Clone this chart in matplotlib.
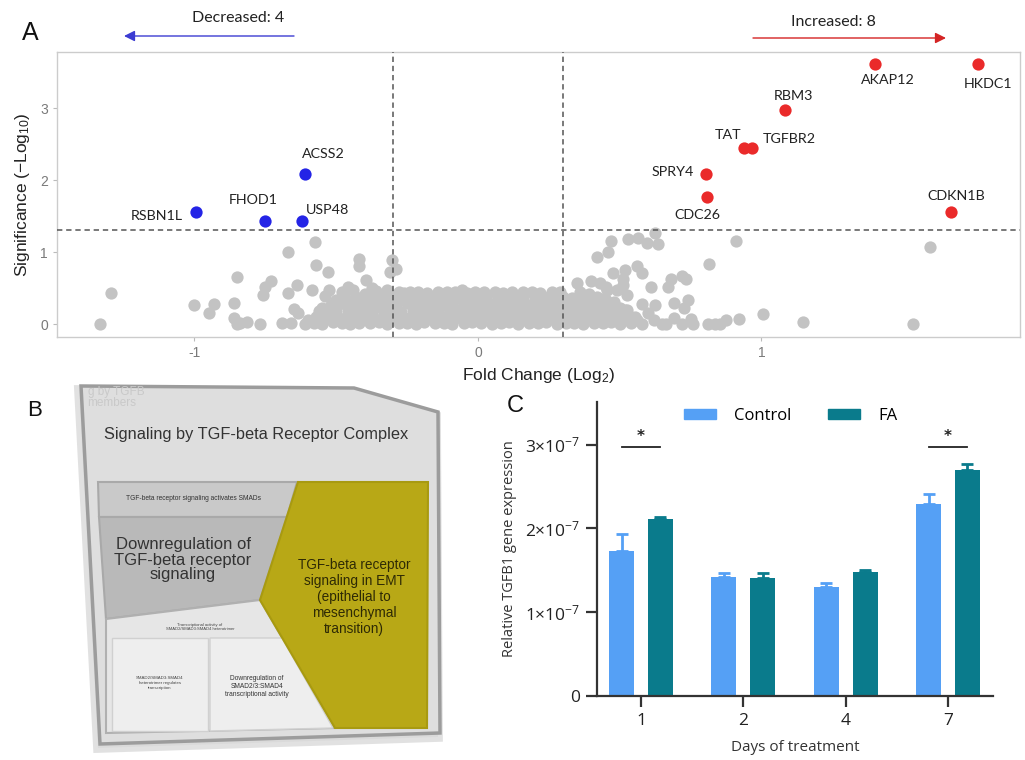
import matplotlib
matplotlib.use('Agg')
import matplotlib.pyplot as plt
from matplotlib.patches import Polygon, Patch

plt.rcParams['mathtext.default'] = 'regular'

# ---------------- Panel A data (volcano plot) ----------------
down_genes = ['RSBN1L', 'FHOD1', 'USP48', 'ACSS2']
down_fc = [-0.995, -0.75, -0.62, -0.61]
down_sig = [1.56, 1.43, 1.43, 2.09]

up_genes = ['AKAP12', 'HKDC1', 'RBM3', 'TAT', 'TGFBR2', 'SPRY4', 'CDC26', 'CDKN1B']
up_fc = [1.40, 1.764, 1.083, 0.94, 0.967, 0.805, 0.808, 1.668]
up_sig = [3.61, 3.61, 2.98, 2.45, 2.45, 2.08, 1.77, 1.56]

# scattered non-significant genes
grey_fc = [-1.335, -1.295, -1.00, -0.95, -0.93, -0.86, -0.86, -0.85, -0.84, -0.815, -0.77,
           -0.85, -0.76, -0.75, -0.73, -0.67, -0.67, -0.64, -0.69, -0.66, -0.65, -0.635,
           -0.61, -0.575, -0.57, -0.53, -0.42, -0.42, -0.305, -0.31, -0.29, -0.585, -0.525,
           -0.54, -0.50, -0.46, -0.395, -0.375, -0.32, -0.26, -0.055, -0.55, -0.60, -0.57,
           0.35, 0.40, 0.43, 0.45, 0.455, 0.49, 0.525, 0.42, 0.46, 0.47, 0.53, 0.565, 0.595,
           0.625, 0.635, 0.475, 0.52, 0.56, 0.58, 0.51, 0.51, 0.61, 0.67, 0.68, 0.72, 0.735,
           0.815, 0.91, 0.58, 0.625, 0.69, 0.74, 0.725, 0.555, 0.525, 0.69, 0.75, 0.58, 0.65,
           0.665, 0.72, 0.76, 0.81, 0.835, 0.855, 0.875, 0.92, 1.005, 1.146, 1.535, 1.595,
           0.36, 0.39, 0.42, 0.45, 0.48, 0.50, 0.53, 0.56, 0.60, 0.62,
           -0.48, -0.44, -0.40, -0.36, -0.34, -0.45]
grey_sig = [0.00, 0.43, 0.26, 0.15, 0.28, 0.29, 0.08, 0.00, 0.02, 0.03, 0.00,
            0.65, 0.40, 0.52, 0.60, 1.00, 0.43, 0.54, 0.02, 0.01, 0.21, 0.15,
            0.00, 1.14, 0.82, 0.72, 0.91, 0.80, 0.89, 0.73, 0.76, 0.48, 0.48,
            0.39, 0.33, 0.51, 0.61, 0.50, 0.48, 0.43, 0.48, 0.22, 0.05, 0.10,
            0.57, 0.60, 0.57, 0.52, 0.47, 0.47, 0.40, 0.93, 1.00, 1.15, 1.18, 1.19, 1.12,
            1.27, 1.11, 0.71, 0.75, 0.80, 0.71, 0.62, 0.54, 0.52, 0.51, 0.63, 0.67, 0.62,
            0.83, 1.15, 0.28, 0.26, 0.29, 0.33, 0.22, 0.10, 0.19, 0.08, 0.07, 0.00, 0.00,
            0.00, 0.00, 0.00, 0.00, 0.00, 0.00, 0.06, 0.07, 0.14, 0.03, 0.00, 1.07,
            0.45, 0.42, 0.38, 0.33, 0.30, 0.22, 0.12, 0.05, 0.15, 0.05,
            0.44, 0.47, 0.42, 0.46, 0.40, 0.30]

# dense central cloud of genes with small fold change
cloud_fc = [-0.58, -0.55, -0.51, -0.48, -0.45, -0.42, -0.38, -0.35, -0.32, -0.28, -0.25, -0.22,
            -0.19, -0.15, -0.12, -0.09, -0.05, -0.02, 0.01, 0.05, 0.08, 0.11, 0.14, 0.18,
            0.21, 0.24, 0.28, 0.31, 0.34, 0.37, 0.41, 0.44, 0.47, 0.50, 0.54,
            -0.565, -0.535, -0.50, -0.47, -0.44, -0.405, -0.375, -0.34, -0.31, -0.275, -0.245, -0.21,
            -0.18, -0.145, -0.115, -0.08, -0.05, -0.015, 0.015, 0.05, 0.08, 0.115, 0.145, 0.18,
            0.21, 0.245, 0.275, 0.31, 0.34, 0.375, 0.405, 0.44, 0.47, 0.505, 0.535,
            -0.56, -0.53, -0.50, -0.46, -0.43, -0.40, -0.37, -0.33, -0.30, -0.27, -0.23, -0.20,
            -0.17, -0.14, -0.10, -0.07, -0.04, 0.00, 0.03, 0.06, 0.10, 0.13, 0.16, 0.19,
            0.23, 0.26, 0.29, 0.32, 0.36, 0.39, 0.42, 0.46, 0.49, 0.52,
            -0.52, -0.49, -0.45, -0.42, -0.38, -0.35, -0.32, -0.29, -0.25, -0.22, -0.19, -0.15,
            -0.12, -0.09, -0.05, -0.02, 0.01, 0.05, 0.08, 0.11, 0.14, 0.18, 0.21, 0.24,
            0.28, 0.31, 0.34, 0.38, 0.41, 0.44, 0.48,
            -0.47, -0.43, -0.40, -0.36, -0.33, -0.30, -0.26, -0.23, -0.20, -0.17, -0.13, -0.10,
            -0.07, -0.03, 0.00, 0.03, 0.07, 0.10, 0.13, 0.16, 0.20, 0.23, 0.26, 0.30,
            0.33, 0.36, 0.40, 0.43,
            -0.28, -0.24, -0.21, -0.18, -0.14, -0.11, -0.08, -0.04, -0.01, 0.02, 0.06, 0.09,
            0.12, 0.16, 0.19, 0.22, 0.26, 0.29]
cloud_sig = [0.02, 0.00, 0.03, 0.01, 0.00, 0.02, 0.01, 0.03, 0.00, 0.02, 0.01, 0.00,
             0.03, 0.01, 0.02, 0.00, 0.01, 0.03, 0.02, 0.00, 0.01, 0.03, 0.00, 0.02,
             0.01, 0.03, 0.00, 0.02, 0.01, 0.00, 0.02, 0.01, 0.03, 0.00, 0.02,
             0.09, 0.10, 0.08, 0.09, 0.11, 0.08, 0.10, 0.09, 0.08, 0.10, 0.09, 0.11,
             0.08, 0.09, 0.10, 0.08, 0.11, 0.09, 0.10, 0.08, 0.09, 0.11, 0.10, 0.08,
             0.09, 0.10, 0.08, 0.11, 0.09, 0.10, 0.08, 0.09, 0.11, 0.10, 0.08,
             0.18, 0.19, 0.17, 0.20, 0.18, 0.17, 0.19, 0.18, 0.20, 0.17, 0.19, 0.18,
             0.17, 0.20, 0.18, 0.19, 0.17, 0.18, 0.20, 0.19, 0.17, 0.18, 0.19, 0.20,
             0.18, 0.17, 0.19, 0.18, 0.20, 0.17, 0.19, 0.18, 0.17, 0.19,
             0.27, 0.28, 0.26, 0.28, 0.27, 0.26, 0.28, 0.27, 0.29, 0.26, 0.27, 0.28,
             0.27, 0.26, 0.29, 0.27, 0.26, 0.28, 0.27, 0.29, 0.27, 0.26, 0.28, 0.27,
             0.26, 0.29, 0.27, 0.26, 0.28, 0.27, 0.26,
             0.36, 0.37, 0.35, 0.38, 0.36, 0.37, 0.36, 0.38, 0.36, 0.37, 0.36, 0.38,
             0.36, 0.37, 0.36, 0.38, 0.36, 0.37, 0.36, 0.38, 0.36, 0.37, 0.36, 0.38,
             0.36, 0.35, 0.37, 0.35,
             0.44, 0.45, 0.44, 0.43, 0.45, 0.44, 0.45, 0.43, 0.44, 0.45, 0.44, 0.43,
             0.45, 0.44, 0.45, 0.43, 0.44, 0.45]

fc_cut = 0.3
sig_cut = 1.30

# ---------------- Panel C data (bar chart) ----------------
days = ['1', '2', '4', '7']
control_mean = [1.73e-7, 1.42e-7, 1.30e-7, 2.29e-7]
control_err = [0.20e-7, 0.05e-7, 0.05e-7, 0.12e-7]
fa_mean = [2.11e-7, 1.41e-7, 1.48e-7, 2.70e-7]
fa_err = [0.03e-7, 0.06e-7, 0.03e-7, 0.07e-7]
sig_days = [0, 3]
y_ticks = [0, 1e-7, 2e-7, 3e-7]
y_ticklabels = ['0', r'$1{\times}10^{-7}$', r'$2{\times}10^{-7}$', r'$3{\times}10^{-7}$']

W, H = 1025, 760
fig = plt.figure(figsize=(W / 100, H / 100), dpi=100)


def fx(px):
    return px / W


def fy(py):
    return 1 - py / H


# ================= Panel A =================
axA = fig.add_axes([fx(57), fy(337), fx(1020) - fx(57), fy(52) - fy(337)])
grey = '#c3c3c3'
msize = 78
axA.scatter(grey_fc + cloud_fc, grey_sig + cloud_sig, s=msize, color=grey, linewidths=0, zorder=2)
axA.scatter(down_fc, down_sig, s=msize, color='#2424e6', linewidths=0, zorder=3)
axA.scatter(up_fc, up_sig, s=msize, color='#ea2a2a', linewidths=0, zorder=3)
dash = (0, (3.5, 2.5))
axA.axvline(-fc_cut, color='#555555', lw=1.1, ls=dash, zorder=4)
axA.axvline(fc_cut, color='#555555', lw=1.1, ls=dash, zorder=4)
axA.axhline(sig_cut, color='#555555', lw=1.1, ls=dash, zorder=4)
axA.set_xlim(-1.485, 1.912)
axA.set_ylim(-0.18, 3.78)
axA.set_xticks([-1, 0, 1])
axA.set_xticklabels(['-1', '0', '1'])
axA.set_yticks([0, 1, 2, 3])
for sp in axA.spines.values():
    sp.set_color('#cccccc')
    sp.set_linewidth(1.0)
axA.tick_params(colors='#bbbbbb', labelcolor='#7a7a7a', labelsize=10, length=3, width=0.8)
for lab in axA.get_xticklabels() + axA.get_yticklabels():
    lab.set_family(['Liberation Sans', 'DejaVu Sans'])
axA.set_xlabel('Fold Change (Log$_2$)', fontsize=12.5, family=['Liberation Sans', 'DejaVu Sans'],
               color='#222222', labelpad=4)
axA.set_ylabel('Significance (\u2212Log$_{10}$)', fontsize=12.5, family=['Liberation Sans', 'DejaVu Sans'],
               color='#222222', labelpad=6)

label_off = {'RSBN1L': (-28, -3), 'FHOD1': (-9, 15), 'USP48': (18, 8), 'ACSS2': (13, 14),
             'AKAP12': (9, -11), 'HKDC1': (7, -14), 'RBM3': (6, 10), 'TAT': (-12, 9),
             'TGFBR2': (27, 6), 'SPRY4': (-24, 2), 'CDC26': (-7, -13), 'CDKN1B': (4, 11.5)}
for g, x, y in zip(down_genes + up_genes, down_fc + up_fc, down_sig + up_sig):
    axA.annotate(g, (x, y), xytext=label_off[g], textcoords='offset points', ha='center',
                 va='center', fontsize=10.3, family=['Lato', 'DejaVu Sans'], color='#222222', zorder=5)

# ================= Panel C =================
axC = fig.add_axes([fx(597), fy(696), fx(993) - fx(597), fy(402) - fy(696)])
ctrl_col = '#55a0f5'
fa_col = '#0a7b8c'
xpos = list(range(len(days)))
off = 0.19
bw = 0.245
xc = [p - off for p in xpos]
xf = [p + off for p in xpos]
axC.bar(xc, control_mean, width=bw, color=ctrl_col, zorder=2)
axC.bar(xf, fa_mean, width=bw, color=fa_col, zorder=2)
axC.errorbar(xc, control_mean, yerr=[[0] * 4, control_err], fmt='none', ecolor=ctrl_col,
             elinewidth=2, capsize=4, capthick=2, zorder=3)
axC.errorbar(xf, fa_mean, yerr=[[0] * 4, fa_err], fmt='none', ecolor=fa_col,
             elinewidth=2, capsize=4, capthick=2, zorder=3)
for d in sig_days:
    axC.plot([xc[d], xf[d]], [2.975e-7, 2.975e-7], color='#222222', lw=1.3)
    axC.text(xpos[d], 3.10e-7, '*', ha='center', va='center', fontsize=11, color='#222222',
             fontweight='bold')
axC.set_xlim(-0.43, 3.44)
axC.set_ylim(0, 3.51e-7)
axC.set_xticks(xpos)
axC.set_xticklabels(days)
axC.set_yticks(y_ticks)
axC.set_yticklabels(y_ticklabels)
for s in ['top', 'right']:
    axC.spines[s].set_visible(False)
for s in ['left', 'bottom']:
    axC.spines[s].set_linewidth(1.6)
    axC.spines[s].set_color('#333333')
axC.tick_params(length=8, width=1.6, color='#333333', labelsize=12.5, labelcolor='#222222', pad=4)
fontC = ['Open Sans', 'DejaVu Sans']
for lab in axC.get_xticklabels() + axC.get_yticklabels():
    lab.set_family(fontC)
axC.set_xlabel('Days of treatment', fontsize=11, family=fontC, color='#333333', labelpad=8)
axC.set_ylabel('Relative TGFB1 gene expression', fontsize=10.5, family=fontC, color='#333333',
               labelpad=6)
leg = axC.legend(handles=[Patch(color=ctrl_col, label='Control'), Patch(color=fa_col, label='FA')],
                 loc='upper center', bbox_to_anchor=(0.49, 1.03), ncol=2, frameon=False,
                 handlelength=1.9, handleheight=0.55, handletextpad=1.1, columnspacing=2.2,
                 prop={'family': fontC, 'size': 12})

# ================= overlay: letters, arrows, panel B =================
ov = fig.add_axes([0, 0, 1, 1], zorder=-1)
ov.set_xlim(0, W)
ov.set_ylim(H, 0)
ov.axis('off')

ov.text(30, 33, 'A', fontsize=18, ha='center', va='center', family=['Liberation Sans'], color='#111111')
ov.text(35, 410, 'B', fontsize=16, ha='center', va='center', family=['Liberation Sans'], color='#111111')
ov.text(515, 406, 'C', fontsize=17, ha='center', va='center', family=['Liberation Sans'], color='#111111')

ov.text(238, 18, 'Decreased: 4', fontsize=11.5, ha='center', va='center', family=['Lato', 'DejaVu Sans'],
        color='#222222')
ov.annotate('', xy=(124, 36), xytext=(294, 36),
            arrowprops=dict(arrowstyle='-|>', color='#3c3cd2', lw=1.0, mutation_scale=16, shrinkA=0, shrinkB=0))
ov.text(833, 22, 'Increased: 8', fontsize=11.5, ha='center', va='center', family=['Lato', 'DejaVu Sans'],
        color='#222222')
ov.annotate('', xy=(946, 38), xytext=(753, 38),
            arrowprops=dict(arrowstyle='-|>', color='#d42424', lw=1.0, mutation_scale=16, shrinkA=0, shrinkB=0))

# Panel B: Reactome voronoi-style pathway map
outer = [(81, 386), (354, 388), (438, 412), (440, 733), (100, 744)]
shadow = [(p[0] - 2, p[1] + 4) for p in outer]
cells = {
    'smads': [(98, 482), (297, 482), (287, 517), (99, 517)],
    'down': [(99, 517), (287, 517), (260, 600), (106, 619)],
    'emt': [(298, 482), (428, 482), (427, 728), (335, 728), (260, 600)],
    'trans': [(106, 619), (260, 600), (335, 728), (106, 733)],
    'het': [(112, 638), (208, 638), (208, 731), (112, 731)],
    'dsmad': [(210, 638), (282, 638), (333, 728), (210, 731)],
}
ov.add_patch(Polygon(shadow, closed=True, facecolor='#d5d5d5', edgecolor='#dadada', lw=7, alpha=0.8))
ov.add_patch(Polygon(outer, closed=True, facecolor='#dedede', edgecolor='#9c9c9c', lw=2.5))
ov.add_patch(Polygon(cells['smads'], closed=True, facecolor='#c9c9c9', edgecolor='#a9a9a9', lw=1.5))
ov.add_patch(Polygon(cells['down'], closed=True, facecolor='#b9b9b9', edgecolor='#a9a9a9', lw=1.5))
ov.add_patch(Polygon(cells['trans'], closed=True, facecolor='#e6e6e6', edgecolor='#b0b0b0', lw=1.5))
ov.add_patch(Polygon(cells['het'], closed=True, facecolor='#eeeeee', edgecolor='#d0d0d0', lw=1.0))
ov.add_patch(Polygon(cells['dsmad'], closed=True, facecolor='#eeeeee', edgecolor='#d0d0d0', lw=1.0))
ov.add_patch(Polygon(cells['emt'], closed=True, facecolor='#b8a816', edgecolor='#a89a10', lw=1.5))

fB = ['Liberation Sans', 'DejaVu Sans']
ov.text(88, 392, 'g by TGFB', fontsize=8.5, color='#c9c9c9', ha='left', va='center', family=fB)
ov.text(87, 403, 'members', fontsize=8.5, color='#c9c9c9', ha='left', va='center', family=fB)
ov.text(256, 435, 'Signaling by TGF-beta Receptor Complex', fontsize=11.8, color='#333333',
        ha='center', va='center', family=fB)
ov.text(193, 499, 'TGF-beta receptor signaling activates SMADs', fontsize=4.8, color='#333333',
        ha='center', va='center', family=fB)
ov.text(183, 560, 'Downregulation of\nTGF-beta receptor\nsignaling', fontsize=12, color='#333333',
        ha='center', va='center', family=fB, linespacing=1.0)
ov.text(354, 597, 'TGF-beta receptor\nsignaling in EMT\n(epithelial to\nmesenchymal\ntransition)',
        fontsize=9.8, color='#2e2a05', ha='center', va='center', family=fB, linespacing=1.2)
ov.text(200, 627, 'Transcriptional activity of\nSMAD2/SMAD3:SMAD4 heterotrimer', fontsize=3, color='#444444',
        ha='center', va='center', family=fB)
ov.text(160, 683, 'SMAD2/SMAD3:SMAD4\nheterotrimer regulates\ntranscription', fontsize=3.2, color='#444444',
        ha='center', va='center', family=fB)
ov.text(257, 687, 'Downregulation of\nSMAD2/3:SMAD4\ntranscriptional activity', fontsize=4.8, color='#333333',
        ha='center', va='center', family=fB)

fig.savefig('out.png', dpi=100)
